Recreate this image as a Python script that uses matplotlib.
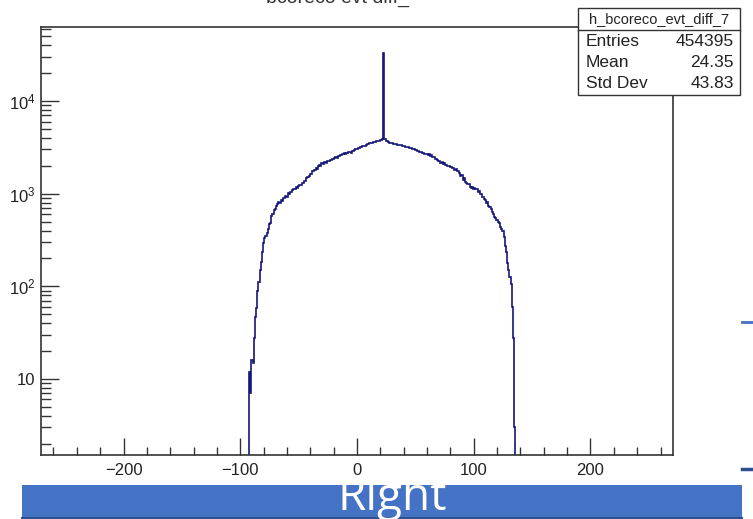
import numpy as np
import matplotlib
matplotlib.use("Agg")
import matplotlib.pyplot as plt
from matplotlib.ticker import FixedLocator, FuncFormatter
from matplotlib.patches import Rectangle
from matplotlib.lines import Line2D

plt.rcParams['font.family'] = ['Liberation Sans', 'DejaVu Sans']
plt.rcParams['mathtext.fontset'] = 'custom'
plt.rcParams['mathtext.rm'] = 'Liberation Sans'
plt.rcParams['mathtext.it'] = 'Liberation Sans'

# -----------------------
# Data
# -----------------------
hist_name = "h_bcoreco_evt_diff_7"
title_text = "bcoreco evt diff_"
stat_labels = ["Entries", "Mean", "Std Dev"]
stat_values = ["454395", "24.35", "43.83"]

bin_first = -92.5   # low edge of first bin
bin_width = 1.0

# counts per bin, bins centred on -92 ... 135
counts = [
    12, 7, 16, 15, 28, 47, 58, 88, 112, 150,
    185, 232, 290, 335, 345, 380, 415, 470, 485, 570,
    610, 660, 680, 745, 770, 810, 800, 850, 830, 890,
    905, 950, 930, 1010, 990, 1050, 1030, 1090, 1110, 1120,
    1170, 1150, 1210, 1240, 1230, 1300, 1310, 1370, 1380, 1460,
    1520, 1560, 1630, 1650, 1740, 1760, 1800, 1880, 1860, 1990,
    2040, 2010, 2120, 2090, 2180, 2210, 2150, 2280, 2250, 2330,
    2320, 2390, 2350, 2430, 2470, 2440, 2530, 2560, 2610, 2590,
    2680, 2720, 2690, 2760, 2740, 2790, 2810, 2770, 2870, 2920,
    2990, 3050, 3020, 3110, 3140, 3200, 3180, 3260, 3310, 3280,
    3390, 3430, 3480, 3510, 3560, 3540, 3600, 3640, 3620, 3700,
    3720, 3680, 3790, 3760, 3900, 33000, 3850, 3720, 3680, 3590,
    3560, 3510, 3490, 3470, 3430, 3440, 3400, 3380, 3390, 3350,
    3330, 3290, 3300, 3240, 3220, 3180, 3170, 3120, 3130, 3090,
    3050, 3030, 2960, 2980, 2890, 2870, 2810, 2830, 2760, 2780,
    2710, 2690, 2700, 2640, 2660, 2560, 2590, 2470, 2500, 2380,
    2340, 2290, 2230, 2250, 2160, 2180, 2090, 2120, 2040, 2060,
    1980, 2000, 1930, 1950, 1880, 1900, 1820, 1850, 1760, 1740,
    1690, 1560, 1600, 1420, 1460, 1330, 1310, 1280, 1260, 1190,
    1160, 1180, 1120, 1150, 1110, 1130, 1050, 1070, 980, 1000,
    910, 870, 850, 800, 820, 740, 720, 690, 630, 610,
    560, 550, 520, 490, 480, 440, 420, 400, 340, 270,
    235, 180, 150, 126, 105, 60, 28, 3,
]

x_range = (-270.7, 270.7)
y_range = (1.51, 63000)
x_major = [-200, -100, 0, 100, 200]
y_major = [10, 100, 1000, 10000]

# -----------------------
# Figure
# -----------------------
W, H = 753, 519
fig = plt.figure(figsize=(W / 100, H / 100), dpi=100)

def fx(px):
    return px / W

def fy(py):
    return 1 - py / H

ax = fig.add_axes([fx(41), fy(455), fx(673) - fx(41), fy(27) - fy(455)])

edges = bin_first + bin_width * np.arange(len(counts) + 1)
ax.stairs(counts, edges, baseline=0.1, color="#15157a", linewidth=1.2)

ax.set_yscale("log")
ax.set_xlim(*x_range)
ax.set_ylim(*y_range)

ax.xaxis.set_major_locator(FixedLocator(x_major))
ax.xaxis.set_minor_locator(FixedLocator(np.arange(-260, 261, 20)))
ax.yaxis.set_major_locator(FixedLocator(y_major))
minor_y = [m * 10.0 ** e for e in range(0, 5) for m in range(2, 10)]
ax.yaxis.set_minor_locator(FixedLocator([v for v in minor_y if v > 1.5]))

def ylab(v, pos):
    if v == 10:
        return "10"
    return r"$10^{%d}$" % int(round(np.log10(v)))

ax.yaxis.set_major_formatter(FuncFormatter(ylab))
ax.xaxis.set_major_formatter(FuncFormatter(lambda v, p: "%d" % v if v >= 0 else "\u2212%d" % -v))

ax.tick_params(axis="both", which="both", direction="in", top=False, right=False,
               color="#333333", width=1.0, labelsize=12, labelcolor="#222222")
ax.tick_params(axis="x", which="major", length=12, pad=6)
ax.tick_params(axis="x", which="minor", length=6)
ax.tick_params(axis="y", which="major", length=13, pad=4)
ax.tick_params(axis="y", which="minor", length=7)

for s in ax.spines.values():
    s.set_color("#333333")
    s.set_linewidth(1.2)

# clipped title at the top
fig.text(fx(338), fy(-2), title_text, ha="center", va="center", fontsize=14, color="#333333")

# stats box
box = Rectangle((fx(578), fy(95)), fx(740) - fx(578), fy(8) - fy(95), transform=fig.transFigure,
                facecolor="white", edgecolor="#333333", linewidth=1.0, zorder=5)
fig.patches.append(box)
fig.lines.append(Line2D([fx(578), fx(740)], [fy(30), fy(30)], transform=fig.transFigure,
                        color="#333333", linewidth=1.0, zorder=6))
fig.text(fx(659), fy(19), hist_name, ha="center", va="center", fontsize=10.5, color="#222222", zorder=7)
for i, (lab, val) in enumerate(zip(stat_labels, stat_values)):
    yy = fy(42 + i * 20.5)
    fig.text(fx(586), yy, lab, ha="left", va="center", fontsize=12.5, color="#222222", zorder=7)
    fig.text(fx(734), yy, val, ha="right", va="center", fontsize=12.5, color="#222222", zorder=7)

# slide elements around the screenshot
bar = Rectangle((fx(22), fy(518)), fx(742) - fx(22), fy(485) - fy(518), transform=fig.transFigure,
                facecolor="#4472c4", edgecolor="none", zorder=1)
fig.patches.append(bar)
fig.lines.append(Line2D([fx(22), fx(742)], [fy(518), fy(518)], transform=fig.transFigure,
                        color="#2f528f", linewidth=1.5))
fig.lines.append(Line2D([fx(742), 1], [fy(469), fy(469)], transform=fig.transFigure,
                        color="#2f4f8f", linewidth=2.5))
fig.lines.append(Line2D([fx(742), 1], [fy(322), fy(322)], transform=fig.transFigure,
                        color="#4472c4", linewidth=2.0))
fig.text(fx(392), fy(498), "Right", ha="center", va="center", fontsize=33,
         color="white", family=["Open Sans", "DejaVu Sans"], zorder=3)

fig.savefig("out.png", dpi=100)
